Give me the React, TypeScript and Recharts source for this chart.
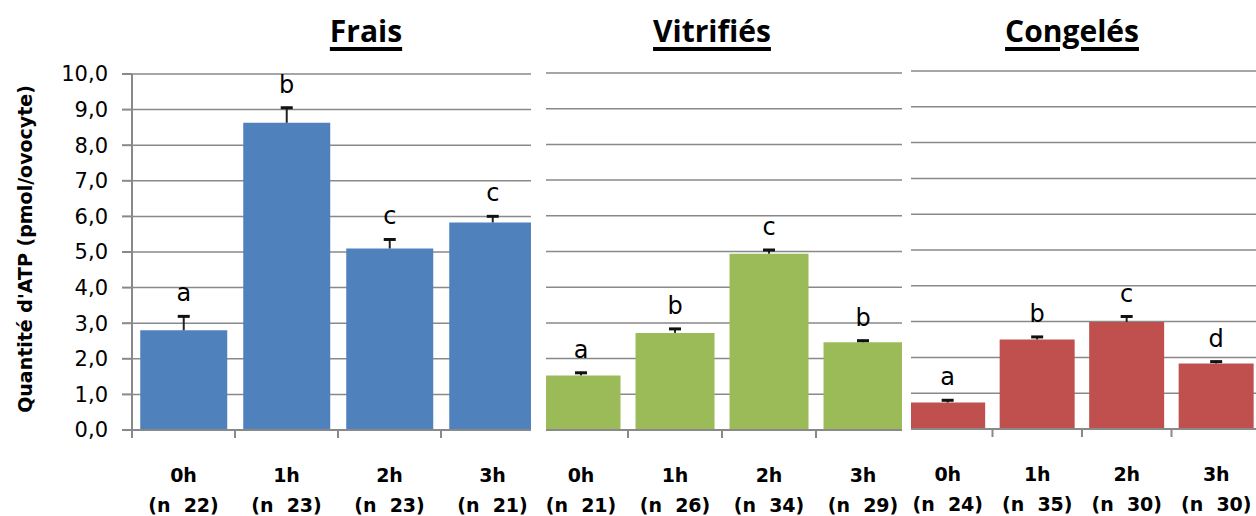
import { BarChart, Bar, XAxis, YAxis, CartesianGrid, LabelList, Label } from 'recharts';

// categories and values
const categories = ['0h', '1h', '2h', '3h'];
const yTicks = [0, 1, 2, 3, 4, 5, 6, 7, 8, 9, 10];

const fraisMean = [2.8, 8.63, 5.1, 5.83];
const fraisErr = [0.42, 0.45, 0.28, 0.2];
const fraisLetters = ['a', 'b', 'c', 'c'];
const fraisN = [22, 23, 23, 21];

const vitrMean = [1.53, 2.72, 4.94, 2.46];
const vitrErr = [0.1, 0.14, 0.13, 0.07];
const vitrLetters = ['a', 'b', 'c', 'b'];
const vitrN = [21, 26, 34, 29];

const congMean = [0.74, 2.5, 2.99, 1.83];
const congErr = [0.09, 0.1, 0.18, 0.08];
const congLetters = ['a', 'b', 'c', 'd'];
const congN = [24, 35, 30, 30];

const GRID = '#898989';
const FONT = '"DejaVu Sans", sans-serif';

const rows = (mean: number[], err: number[], letters: string[], n: number[]) =>
    categories.map((cat, i) => ({ cat, mean: mean[i], err: err[i], letter: letters[i], n: n[i] }));

const fraisData = rows(fraisMean, fraisErr, fraisLetters, fraisN);
const vitrData = rows(vitrMean, vitrErr, vitrLetters, vitrN);
const congData = rows(congMean, congErr, congLetters, congN);

const fmt = (v: number) => v.toFixed(1).replace('.', ',');

// upper-only error bar drawn on the stacked "err" segment
const ErrShape = (props: any) => {
    const { x, y, width, height } = props;
    if (x == null || y == null) return <g />;
    const cx = x + width / 2;
    return (
        <g>
            <line x1={cx} x2={cx} y1={y + height} y2={y} stroke="#222" strokeWidth={2} />
            <line x1={cx - 6} x2={cx + 6} y1={y + 1} y2={y + 1} stroke="#111" strokeWidth={3} />
        </g>
    );
};

const makeTick = (ns: number[], half: number) => (props: any) => {
    const { x, y, payload, index } = props;
    return (
        <g>
            <line x1={x - half} x2={x - half} y1={y} y2={y + 8} stroke={GRID} strokeWidth={2} />
            <text x={x} y={y + 52} textAnchor="middle" fontFamily={FONT} fontWeight="bold" fontSize={19} fill="#000">
                {payload.value}
            </text>
            <text x={x} y={y + 82} textAnchor="middle" fontFamily={FONT} fontWeight="bold" fontSize={19} fill="#000">
                {`(n\u00a0\u00a0${ns[index]})`}
            </text>
        </g>
    );
};

type PanelProps = {
    data: any[];
    ns: number[];
    color: string;
    width: number;
    top: number;
    bottom: number;
    left: number;
    right: number;
    withAxis?: boolean;
};

function Panel({ data, ns, color, width, top, bottom, left, right, withAxis }: PanelProps) {
    const plotW = width - left - right;
    return (
        <BarChart
            width={width}
            height={516}
            data={data}
            barCategoryGap="8%"
            margin={{ top, right, bottom: 0, left: withAxis ? 0 : left }}
        >
            <CartesianGrid vertical={false} stroke={GRID} strokeWidth={1.5} />
            <XAxis
                dataKey="cat"
                interval={0}
                height={516 - bottom}
                tickLine={false}
                tickSize={0}
                tickMargin={0}
                axisLine={{ stroke: GRID, strokeWidth: 2 }}
                tick={makeTick(ns, plotW / 8)}
            />
            {withAxis ? (
                <YAxis
                    width={left}
                    domain={[0, 10]}
                    ticks={yTicks}
                    tickFormatter={fmt}
                    tickSize={10}
                    tickMargin={14}
                    axisLine={{ stroke: GRID, strokeWidth: 2 }}
                    tickLine={{ stroke: GRID, strokeWidth: 2 }}
                    tick={{ fill: '#000', fontSize: 21, fontFamily: FONT }}
                >
                    <Label
                        content={(p: any) => {
                            const vb = p.viewBox || { y: top, height: 356 };
                            const cy = vb.y + vb.height / 2 - 3;
                            return (
                                <text
                                    x={25}
                                    y={cy}
                                    transform={`rotate(-90, 25, ${cy})`}
                                    textAnchor="middle"
                                    dominantBaseline="central"
                                    fontFamily={FONT}
                                    fontWeight="bold"
                                    fontSize={19}
                                    fill="#000"
                                >
                                    Quantité d'ATP (pmol/ovocyte)
                                </text>
                            );
                        }}
                    />
                </YAxis>
            ) : (
                <YAxis hide domain={[0, 10]} ticks={yTicks} />
            )}
            <Bar dataKey="mean" stackId="s" fill={color} isAnimationActive={false} />
            <Bar dataKey="err" stackId="s" fill="none" shape={ErrShape} isAnimationActive={false}>
                <LabelList dataKey="letter" position="top" offset={14} fill="#000" fontSize={24} fontFamily={FONT} />
            </Bar>
        </BarChart>
    );
}

const titleStyle = (cx: number): React.CSSProperties => ({
    position: 'absolute',
    left: cx - 120,
    width: 240,
    top: 16,
    textAlign: 'center',
    fontFamily: '"Open Sans", sans-serif',
    fontWeight: 700,
    fontSize: 30,
    lineHeight: '30px',
    color: '#000',
    textDecoration: 'underline',
    textDecorationThickness: '4px',
    textUnderlineOffset: '5px',
});

export default function App() {
    return (
        <div style={{ position: 'fixed', left: 0, top: 0, width: 1256, height: 516, background: '#fff', overflow: 'hidden' }}>
            <div style={{ position: 'absolute', left: 0, top: 0, width: 531, height: 516, overflow: 'hidden' }}>
                <Panel data={fraisData} ns={fraisN} color="#4F81BD" width={560} top={74} bottom={430} left={132} right={16} withAxis />
            </div>
            <div style={{ position: 'absolute', left: 546, top: 0, width: 356, height: 516, overflow: 'hidden' }}>
                <div style={{ position: 'absolute', left: -12, top: 0 }}>
                    <Panel data={vitrData} ns={vitrN} color="#9BBB59" width={376} top={73} bottom={430} left={0} right={0} />
                </div>
            </div>
            <div style={{ position: 'absolute', left: 911, top: 0, width: 345, height: 516, overflow: 'hidden' }}>
                <div style={{ position: 'absolute', left: -8, top: 0 }}>
                    <Panel data={congData} ns={congN} color="#C0504D" width={358} top={71} bottom={429} left={0} right={0} />
                </div>
            </div>
            <div style={titleStyle(366)}>Frais</div>
            <div style={titleStyle(712)}>Vitrifiés</div>
            <div style={titleStyle(1072)}>Congelés</div>
        </div>
    );
}
